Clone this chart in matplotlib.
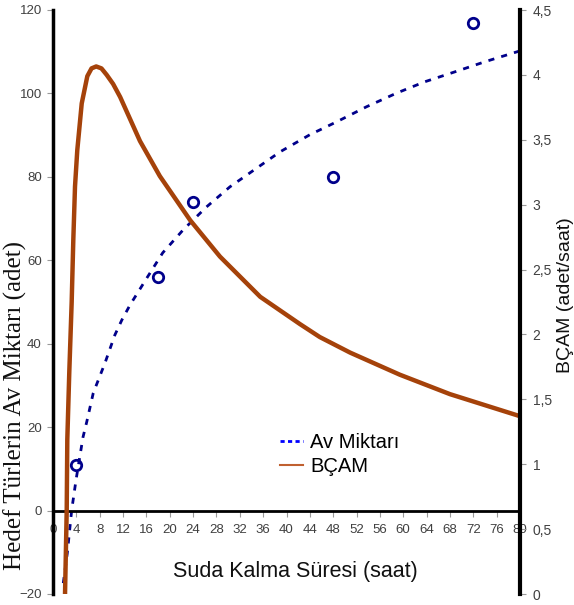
import matplotlib
matplotlib.use("Agg")
import matplotlib.pyplot as plt
from matplotlib.lines import Line2D

# ---- data ----
obs_hours = [4, 18, 24, 48, 72]
obs_catch = [11, 56, 74, 80, 117]

trend_hours = [1.76, 2.45, 3.2, 3.94, 5.14, 5.77, 6.9, 8.91, 10.6, 11.8, 13.2, 16.1, 18.8,
               22.3, 26.3, 30.3, 34.9, 38.9, 44.0, 48.6, 53.7, 58.9, 63.7, 68.9, 74.0, 80.0]
trend_catch = [-17.4, -10.2, 0.1, 7.3, 17.6, 21.2, 28.2, 35.4, 42.1, 45.7, 49.3, 55.8, 61.8,
               67.3, 72.8, 77.6, 82.1, 86.0, 90.1, 93.2, 96.8, 100.1, 102.8, 105.2, 107.6, 110.2]

bcam_hours = [2.06, 2.35, 2.45, 2.79, 3.2, 3.48, 3.77, 4.16, 4.92, 5.88, 6.6, 7.4, 8.3, 9.2,
              10.3, 11.5, 13.0, 14.9, 18.3, 23.5, 28.6, 35.5, 42.3, 45.7, 50.9, 59.4, 68.0, 80.0]
bcam_vals = [0.0, 0.65, 1.19, 1.71, 2.25, 2.73, 3.14, 3.42, 3.78, 3.99, 4.05, 4.065, 4.05, 4.0,
             3.93, 3.83, 3.68, 3.49, 3.22, 2.88, 2.60, 2.29, 2.08, 1.98, 1.86, 1.69, 1.54, 1.37]

x_ticks = list(range(0, 81, 4))
left_ticks = [-20, 0, 20, 40, 60, 80, 100, 120]
right_ticks = [0, 0.5, 1, 1.5, 2, 2.5, 3, 3.5, 4, 4.5]
right_tick_labels = ["0", "0,5", "1", "1,5", "2", "2,5", "3", "3,5", "4", "4,5"]

legend_labels = ["Av Miktarı", "BÇAM"]

# ---- style ----
plt.rcParams['font.family'] = ['Liberation Sans', 'DejaVu Sans']
navy = "#00008B"
brown = "#A5420A"
tick_grey = "#404040"

fig = plt.figure(figsize=(5.74, 6.05), dpi=100)
ax = fig.add_axes([53/574, 1 - 594/605, (520-53)/574, (594-10)/605])
ax2 = ax.twinx()

ax.set_xlim(0, 80)
ax.set_ylim(-20, 120)
ax2.set_ylim(0, 4.5)

# trend line and observations
ax.plot(trend_hours, trend_catch, color=navy, lw=2.0, linestyle=(0, (2.2, 2.6)), zorder=2)
ax.plot(obs_hours, obs_catch, linestyle='none', marker='o', markersize=7.5,
        markerfacecolor='none', markeredgecolor=navy, markeredgewidth=2.0, zorder=3)

ax2.plot(bcam_hours, bcam_vals, color=brown, lw=3.2, solid_capstyle='butt',
         solid_joinstyle='round', zorder=2)

# spines
for s in ['top', 'right']:
    ax.spines[s].set_visible(False)
ax.spines['left'].set_linewidth(2.5)
ax.spines['left'].set_color('black')
ax.spines['bottom'].set_position(('data', 0))
ax.spines['bottom'].set_linewidth(2.0)
ax.spines['bottom'].set_color('black')
for s in ['top', 'left', 'bottom']:
    ax2.spines[s].set_visible(False)
ax2.spines['right'].set_linewidth(3.0)
ax2.spines['right'].set_color('black')

ax.set_xticks(x_ticks)
ax.set_yticks(left_ticks)
ax2.set_yticks(right_ticks)
ax2.set_yticklabels(right_tick_labels)

ax.tick_params(axis='x', direction='out', length=4, width=0.8, color='#999999',
               labelsize=9.5, labelcolor=tick_grey, pad=6)
ax.tick_params(axis='y', direction='out', length=4, width=0.8, color='#999999',
               labelsize=9.5, labelcolor=tick_grey, pad=4)
ax2.tick_params(axis='y', direction='out', length=4, width=0.8, color='#999999',
                labelsize=10, labelcolor=tick_grey, pad=5)

# labels
fig.text(295/574, 1 - 571/605, "Suda Kalma Süresi (saat)", ha='center', va='center',
         fontsize=15.5, color='#111111')
fig.text(15/574, 1 - 405/605, "Hedef Türlerin Av Miktarı (adet)", ha='center', va='center',
         rotation=90, fontsize=18, family=['Liberation Serif', 'DejaVu Serif'], color='#111111')
fig.text(566/574, 1 - 295/605, "BÇAM (adet/saat)", ha='center', va='center',
         rotation=90, fontsize=14, color='#111111')

handles = [Line2D([], [], color='#0000FF', lw=2.0, linestyle=(0, (1.5, 1.2))),
           Line2D([], [], color='#C06030', lw=1.5)]
fig.legend(handles, legend_labels, loc='upper left', bbox_to_anchor=(280/574, 1 - 433/605),
           frameon=False, fontsize=14.5, handlelength=1.15, handletextpad=0.35,
           labelspacing=0.25, borderaxespad=0, borderpad=0)

fig.savefig("out.png", dpi=100, facecolor='white')
